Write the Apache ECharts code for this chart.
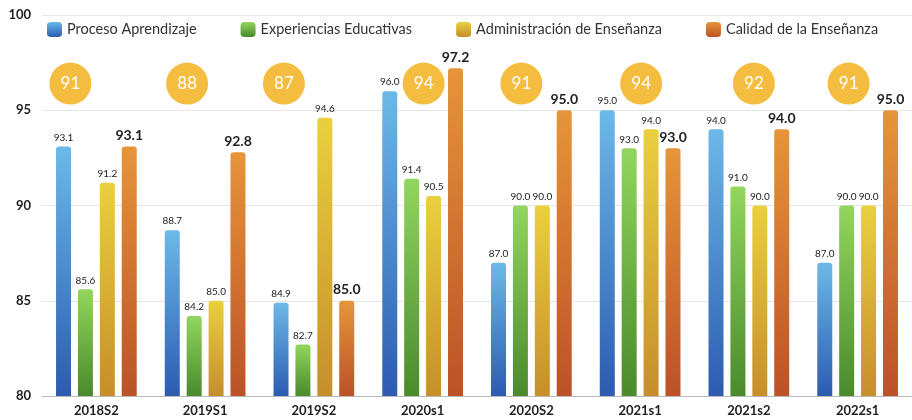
<!DOCTYPE html>
<html>
<head>
<meta charset="utf-8">
<script src="https://cdn.jsdelivr.net/npm/echarts@6/dist/echarts.min.js"></script>
<style>
  html, body { margin: 0; padding: 0; background: #fff; }
  #chart { width: 912px; height: 420px; }
</style>
</head>
<body>
<div id="chart"></div>
<script>
// datos
const periodos = ['2018S2', '2019S1', '2019S2', '2020s1', '2020S2', '2021s1', '2021s2', '2022s1']
const procesoAprendizaje = [93.1, 88.7, 84.9, 96.0, 87.0, 95.0, 94.0, 87.0]
const experienciasEducativas = [85.6, 84.2, 82.7, 91.4, 90.0, 93.0, 91.0, 90.0]
const administracionEnsenanza = [91.2, 85.0, 94.6, 90.5, 90.0, 94.0, 90.0, 90.0]
const calidadEnsenanza = [93.1, 92.8, 85.0, 97.2, 95.0, 93.0, 94.0, 95.0]
const promedios = [91, 88, 87, 94, 91, 94, 92, 91]
const yTicks = [80, 85, 90, 95, 100]

// desplazamiento horizontal de los circulos (px)
const badgeShift = [-26, -18, -30, 1, -10, 1, 5, -9]

const chart = echarts.init(document.getElementById('chart'))

function grad (top, bottom) {
  return new echarts.graphic.LinearGradient(0, 0, 0, 1, [
    { offset: 0, color: top },
    { offset: 1, color: bottom }
  ])
}

function barSerie (name, data, colors, big) {
  return {
    name: name,
    type: 'bar',
    data: data,
    barWidth: 15,
    barGap: '46%',
    itemStyle: { color: grad(colors[0], colors[1]), borderRadius: [3, 3, 0, 0] },
    label: {
      show: true,
      position: 'top',
      distance: 4,
      formatter: p => p.value.toFixed(1),
      color: '#222',
      fontFamily: 'Lato',
      fontSize: big ? 14 : 10,
      fontWeight: big ? 'bold' : 'normal'
    }
  }
}

chart.setOption({
  animation: false,
  textStyle: { fontFamily: 'Lato' },
  legend: {
    top: 17,
    left: 42,
    itemWidth: 15,
    itemHeight: 15,
    itemGap: 44,
    textStyle: { fontSize: 14.5, color: '#333', fontFamily: 'Lato' },
    data: ['Proceso Aprendizaje', 'Experiencias Educativas', 'Administración de Enseñanza', 'Calidad de la Enseñanza']
  },
  grid: { left: 42, top: 15, bottom: 24, width: 880 },
  xAxis: {
    type: 'category',
    data: periodos,
    axisLine: { lineStyle: { color: '#bbb' } },
    axisTick: { show: false },
    axisLabel: { color: '#222', fontSize: 13, fontWeight: 'bold', margin: 8 }
  },
  yAxis: {
    type: 'value',
    min: yTicks[0],
    max: yTicks[yTicks.length - 1],
    interval: 5,
    axisLine: { show: false },
    axisTick: { show: false },
    splitLine: { lineStyle: { color: '#e6e6e6' } },
    axisLabel: { color: '#222', fontSize: 13, fontWeight: 'bold', margin: 11 }
  },
  series: [
    barSerie('Proceso Aprendizaje', procesoAprendizaje, ['#6cb9e8', '#2c5bb0'], false),
    barSerie('Experiencias Educativas', experienciasEducativas, ['#92d65e', '#4a8a2c'], false),
    barSerie('Administración de Enseñanza', administracionEnsenanza, ['#ead03e', '#c68e2c'], false),
    barSerie('Calidad de la Enseñanza', calidadEnsenanza, ['#e6953a', '#bc5127'], true),
    {
      type: 'scatter',
      name: 'promedio',
      z: 5,
      symbolSize: 42,
      itemStyle: { color: '#f5bd3f', opacity: 1 },
      label: {
        show: true,
        position: 'inside',
        formatter: p => String(p.value[2]),
        color: '#fff',
        fontSize: 17,
        fontFamily: 'Lato'
      },
      data: promedios.map((v, i) => ({
        value: [i, 96.4, v],
        symbolOffset: [badgeShift[i], 0]
      }))
    }
  ]
})
</script>
</body>
</html>
